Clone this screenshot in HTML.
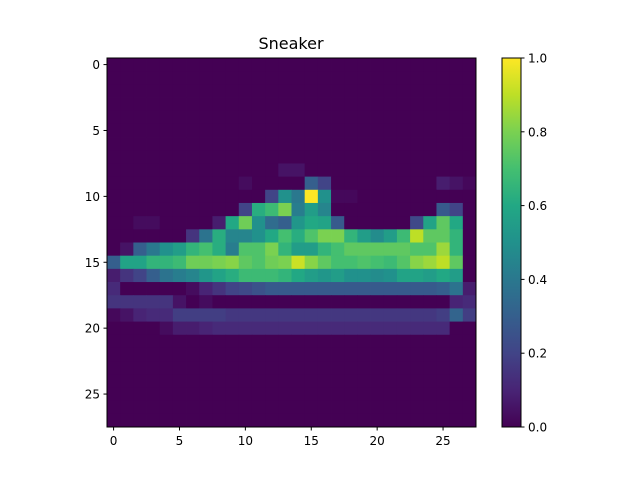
<!DOCTYPE html>
<html><head><meta charset="utf-8">
<style>
body{margin:0;background:#fff;font-family:"Liberation Sans","DejaVu Sans",sans-serif;}
svg text{font-family:"DejaVu Sans","Liberation Sans",sans-serif;font-size:12px;fill:#000;}
</style></head>
<body>
<svg id="chart" width="640" height="480" xmlns="http://www.w3.org/2000/svg">
<defs>
<linearGradient id="vir" x1="0" y1="1" x2="0" y2="0">
<stop offset="0" stop-color="#440154"/><stop offset="0.1" stop-color="#482475"/><stop offset="0.2" stop-color="#414487"/><stop offset="0.3" stop-color="#355f8d"/><stop offset="0.4" stop-color="#2a788e"/><stop offset="0.5" stop-color="#21918c"/><stop offset="0.6" stop-color="#22a884"/><stop offset="0.7" stop-color="#44bf70"/><stop offset="0.8" stop-color="#7ad151"/><stop offset="0.9" stop-color="#bddf26"/><stop offset="1" stop-color="#fde725"/>
</linearGradient>
</defs>
<text x="291" y="49" text-anchor="middle" style="font-size:16px">Sneaker</text>
<g id="cells"></g>
<rect x="107" y="58" width="369" height="369" fill="none" stroke="#000" stroke-width="1"/>
<g id="xticks"></g>
<g id="yticks"></g>
<rect x="502" y="58" width="19" height="369" fill="url(#vir)" stroke="#000" stroke-width="1"/>
<g id="cticks"></g>
</svg>
<script>
const Z=[0,0,0,0,0,0,0,0,0,0,0,0,0,0,0,0,0,0,0,0,0,0,0,0,0,0,0,0];
const imageRows=[
Z,Z,Z,Z,Z,Z,Z,Z,
[0,0,0,0,0,0,0,0,0,0,0,0,0,0.05,0.05,0,0,0,0,0,0,0,0,0,0,0,0,0],
[0,0,0,0,0,0,0,0,0,0,0.03,0,0,0,0,0.3,0.2,0,0,0,0,0,0,0,0,0.08,0.05,0.02],
[0,0,0,0,0,0,0,0,0,0,0,0,0.2,0.5,0.4,1.0,0.5,0.02,0.02,0,0,0,0,0,0,0,0,0],
[0,0,0,0,0,0,0,0,0,0,0.2,0.62,0.68,0.8,0.42,0.55,0.45,0,0,0,0,0,0,0,0,0.28,0.2,0],
[0,0,0.03,0.03,0,0,0,0,0.08,0.6,0.78,0.5,0.35,0.3,0.52,0.6,0.58,0.28,0,0,0,0,0,0.22,0.58,0.75,0.6,0],
[0,0,0,0,0,0,0.15,0.38,0.62,0.45,0.45,0.5,0.6,0.7,0.62,0.72,0.8,0.8,0.65,0.55,0.48,0.55,0.68,0.9,0.75,0.75,0.65,0],
[0,0.05,0.3,0.4,0.5,0.55,0.65,0.7,0.62,0.42,0.72,0.72,0.8,0.65,0.55,0.55,0.65,0.7,0.75,0.75,0.75,0.75,0.75,0.72,0.72,0.85,0.65,0],
[0.3,0.58,0.58,0.65,0.65,0.68,0.78,0.78,0.8,0.82,0.75,0.72,0.78,0.8,0.92,0.82,0.75,0.7,0.7,0.72,0.7,0.68,0.73,0.82,0.85,0.9,0.75,0],
[0.08,0.15,0.2,0.3,0.38,0.42,0.45,0.52,0.58,0.62,0.68,0.68,0.68,0.65,0.6,0.55,0.52,0.55,0.5,0.5,0.48,0.5,0.58,0.58,0.55,0.6,0.55,0],
[0.12,0,0,0,0,0,0.03,0.1,0.15,0.2,0.22,0.25,0.28,0.28,0.28,0.28,0.28,0.28,0.28,0.28,0.28,0.28,0.28,0.28,0.28,0.3,0.38,0.08],
[0.15,0.15,0.15,0.15,0.15,0.05,0,0.03,0,0,0,0,0,0,0,0,0,0,0,0,0,0,0,0,0,0,0.1,0.12],
[0.02,0.05,0.1,0.12,0.12,0.18,0.18,0.18,0.18,0.16,0.16,0.16,0.16,0.16,0.16,0.16,0.16,0.16,0.16,0.16,0.16,0.16,0.16,0.16,0.16,0.18,0.32,0.18],
[0,0,0,0,0.03,0.08,0.08,0.1,0.12,0.12,0.12,0.12,0.12,0.12,0.12,0.12,0.12,0.12,0.12,0.12,0.12,0.12,0.12,0.12,0.12,0.12,0,0],
Z,Z,Z,Z,Z,Z,Z
];
const axisTicks=[0,5,10,15,20,25];
const colorTicks=[0,0.2,0.4,0.6,0.8,1.0];
const colorTickLabels=["0.0","0.2","0.4","0.6","0.8","1.0"];

const X0=107,Y0=58,SZ=369,N=28,cell=SZ/N;
const sx=v=>X0+(v+0.5)*cell, sy=v=>Y0+(v+0.5)*cell;
const cy=v=>427-v*369;
const VIR=[[68,1,84],[72,36,117],[65,68,135],[53,95,141],[42,120,142],[33,145,140],[34,168,132],[68,191,112],[122,209,81],[189,223,38],[253,231,37]];
function vir(t){t=Math.max(0,Math.min(1,t));const f=t*10,i=Math.min(9,Math.floor(f)),r=f-i;const a=VIR[i],b=VIR[i+1];return `rgb(${a.map((c,k)=>Math.round(c+(b[k]-c)*r)).join(',')})`;}
const NS="http://www.w3.org/2000/svg";
const mk=(tag,at)=>{const e=document.createElementNS(NS,tag);for(const k in at)e.setAttribute(k,at[k]);return e;};
const cells=document.getElementById('cells');
imageRows.forEach((row,r)=>row.forEach((v,c)=>{
  const e=mk('rect',{x:X0+c*cell,y:Y0+r*cell,width:cell+0.4,height:cell+0.4,fill:vir(v)});
  
  
  cells.appendChild(e);
}));
const xt=document.getElementById('xticks'),yt=document.getElementById('yticks'),ct=document.getElementById('cticks');
axisTicks.forEach(v=>{
  const l=mk('line',{x1:sx(v),x2:sx(v),y1:427,y2:430.5,stroke:'#000'});
  
  
  xt.appendChild(l);
  const t=mk('text',{x:sx(v),y:445,'text-anchor':'middle'});t.textContent=v;
  
  
  xt.appendChild(t);
  const l2=mk('line',{x1:103.5,x2:107,y1:sy(v),y2:sy(v),stroke:'#000'});
  
  
  yt.appendChild(l2);
  const t2=mk('text',{x:100,y:sy(v)+4.5,'text-anchor':'end'});t2.textContent=v;
  
  
  yt.appendChild(t2);
});
colorTicks.forEach((v,i)=>{
  const l=mk('line',{x1:521,x2:524.5,y1:cy(v),y2:cy(v),stroke:'#000'});
  
  
  ct.appendChild(l);
  const t=mk('text',{x:528,y:cy(v)+4.5});t.textContent=colorTickLabels[i];
  
  
  ct.appendChild(t);
});
</script>
</body></html>
